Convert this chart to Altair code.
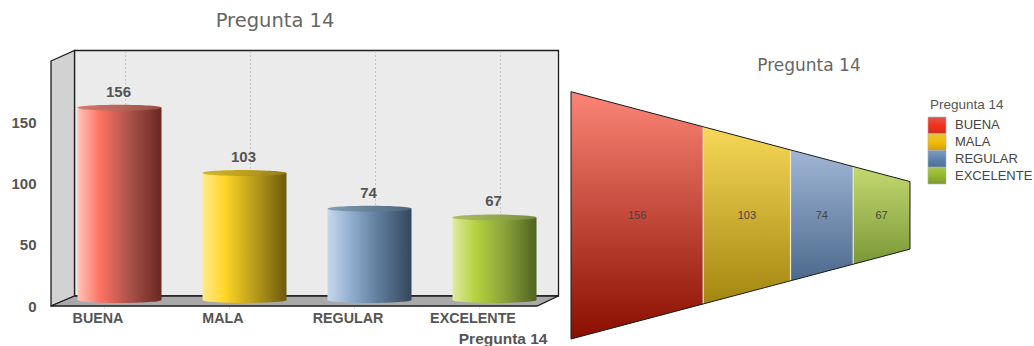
import altair as alt
import pandas as pd

# Survey answers for question 14
categories = ["BUENA", "MALA", "REGULAR", "EXCELENTE"]
counts = [156, 103, 74, 67]
question = "Pregunta 14"
y_ticks = [0, 50, 100, 150]

SANS = "Liberation Sans"
WIDE = "DejaVu Sans"


def gradient(stops, vertical=False):
    return {
        "gradient": "linear",
        "x1": 0, "y1": 0,
        "x2": 0 if vertical else 1,
        "y2": 1 if vertical else 0,
        "stops": [{"offset": o, "color": c} for o, c in stops],
    }


# Per-category palettes
cylinder_body = {
    "BUENA": [(0, "#ffc4ba"), (0.27, "#fd7262"), (0.62, "#a9524a"), (1, "#682820")],
    "MALA": [(0, "#ffe98c"), (0.27, "#fed625"), (0.62, "#b89b1a"), (1, "#6e5a0a")],
    "REGULAR": [(0, "#c9d8ea"), (0.27, "#92afd1"), (0.62, "#5e7a99"), (1, "#33475c")],
    "EXCELENTE": [(0, "#dfeaa2"), (0.27, "#b6d240"), (0.62, "#8ba23a"), (1, "#4e6320")],
}
cylinder_cap = {
    "BUENA": [(0, "#d07a6e"), (0.5, "#bb6558"), (1, "#964c42")],
    "MALA": [(0, "#d2b52e"), (0.5, "#bca01e"), (1, "#937c16")],
    "REGULAR": [(0, "#869db6"), (0.5, "#67809a"), (1, "#4f657c")],
    "EXCELENTE": [(0, "#abbf62"), (0.5, "#94aa50"), (1, "#768a3c")],
}
funnel_fill = {
    "BUENA": [(0, "#fb8576"), (1, "#8a0e00")],
    "MALA": [(0, "#f7d858"), (1, "#a3860f")],
    "REGULAR": [(0, "#a0b6d6"), (1, "#4c6a8c")],
    "EXCELENTE": [(0, "#c4d96f"), (1, "#7a9838")],
}
legend_fill = {
    "BUENA": [(0, "#dc5a4c"), (0.5, "#f5301c"), (1, "#c8321c")],
    "MALA": [(0, "#e8c440"), (0.5, "#f2bd06"), (1, "#cfa008")],
    "REGULAR": [(0, "#7f9cc0"), (0.5, "#5e82ae"), (1, "#4e6e96")],
    "EXCELENTE": [(0, "#a8c650"), (0.5, "#92b82c"), (1, "#7d9a30")],
}

df = pd.DataFrame({"cat": categories, "n": counts})

# ---- Bar panel scales ----
x_band = alt.Scale(domain=categories, range=[57, 557], paddingInner=0.328, paddingOuter=0.164)
y_bar = alt.Scale(domain=[0, 200], range=[300, 53.5])
y_front = alt.Scale(domain=[0, 200], range=[306, 61])
px_x = alt.Scale(domain=[0, 1034], range=[0, 1034])
px_y = alt.Scale(domain=[0, 346], range=[0, 346])

X = alt.X("cat:N", scale=x_band, axis=None, sort=categories)
Y = alt.Y("n:Q", scale=y_bar, axis=None)

layers = []

# Back wall, side wall and floor of the 3D box
wall_back = pd.DataFrame({"x": [74.5, 558.5], "t": [50.5, 50.5], "b": [296, 296]})
layers.append(
    alt.Chart(wall_back).mark_area(color="#ebebeb", stroke="#1c1c1c", strokeWidth=1.3).encode(
        x=alt.X("x:Q", scale=px_x, axis=None),
        y=alt.Y("t:Q", scale=px_y, axis=None),
        y2="b:Q",
    )
)
wall_side = pd.DataFrame({"x": [51, 74.5], "t": [61, 50.5], "b": [306, 296]})
layers.append(
    alt.Chart(wall_side).mark_area(color="#d2d2d2", stroke="#1c1c1c", strokeWidth=1.3).encode(
        x=alt.X("x:Q", scale=px_x, axis=None),
        y=alt.Y("t:Q", scale=px_y, axis=None),
        y2="b:Q",
    )
)
floor = pd.DataFrame({"y": [296, 306], "l": [74.5, 51], "r": [558.5, 537]})
layers.append(
    alt.Chart(floor).mark_area(orient="horizontal", color="#a9a9a9", stroke="#1c1c1c", strokeWidth=1.3).encode(
        y=alt.Y("y:Q", scale=px_y, axis=None),
        x=alt.X("l:Q", scale=px_x, axis=None),
        x2="r:Q",
    )
)

# Dotted guides on the back wall
layers.append(
    alt.Chart(df).mark_rule(color="#c6c6c6", strokeDash=[2, 2], strokeWidth=1, xOffset=6).encode(
        x=X, y=alt.value(51), y2=alt.value(296)
    )
)

# Cylinders: base ellipse, body, top cap
ELLIPSE = "M-1,0A1,0.07,0,1,1,1,0A1,0.07,0,1,1,-1,0Z"
for cat in categories:
    sub = df[df["cat"] == cat]
    layers.append(
        alt.Chart(sub).mark_point(
            shape=ELLIPSE, size=7056, filled=True, opacity=1, strokeWidth=0,
            fill=gradient(cylinder_body[cat]),
        ).encode(x=X, y=alt.Y("z:Q", scale=y_bar, axis=None)).transform_calculate(z="0")
    )
    layers.append(
        alt.Chart(sub).mark_bar(fill=gradient(cylinder_body[cat])).encode(x=X, y=Y)
    )
    layers.append(
        alt.Chart(sub).mark_point(
            shape=ELLIPSE, size=7056, filled=True, opacity=1, strokeWidth=0,
            fill=gradient(cylinder_cap[cat]),
        ).encode(x=X, y=Y)
    )

# Value labels above the cylinders
layers.append(
    alt.Chart(df).mark_text(
        font=SANS, fontSize=15, fontWeight="bold", color="#555555", dy=-16, dx=-1
    ).encode(x=X, y=Y, text="n:Q")
)

# Axes sit on the front plane of the box
ticks_df = pd.DataFrame({"v": y_ticks})
layers.append(
    alt.Chart(ticks_df).mark_rule(opacity=0).encode(
        y=alt.Y(
            "v:Q", scale=y_front,
            axis=alt.Axis(
                orient="left", offset=-36, values=y_ticks, title=None, domain=False,
                ticks=False, grid=False, labelPadding=0, labelFont=SANS, labelFontSize=15,
                labelFontWeight="bold", labelColor="#555555",
            ),
        )
    )
)
layers.append(
    alt.Chart(df).mark_rule(opacity=0).encode(
        x=alt.X(
            "cat:N", scale=x_band, sort=categories,
            axis=alt.Axis(
                orient="bottom", offset=-40, title=question, domain=False, grid=False,
                labelAngle=0, labelOffset=-6, tickOffset=-16, tickColor="#e4e4e4",
                tickSize=3, labelPadding=2, labelFont=SANS, labelFontSize=14.3,
                labelFontWeight="bold", labelColor="#555555", titleFont=SANS,
                titleFontSize=15.5, titleFontWeight="bold", titleColor="#555555",
                titleX=547, titleY=32, titleAlign="right", titleBaseline="middle",
            ),
        )
    )
)

# ---- Funnel: widths follow the running total, height tapers linearly ----
total = sum(counts)
x_fun = alt.Scale(domain=[0, total], range=[571, 910])
y_fun = alt.Scale(domain=[-1, 1], range=[339, 91.7])
TAPER = 33.8 / 123.7


def half_height(c):
    return 1 - (1 - TAPER) * c / total


edges = []
running = 0
for cat, n in zip(categories, counts):
    start, end = running, running + n
    running = end
    seg = pd.DataFrame({
        "c": [start, end],
        "top": [half_height(start), half_height(end)],
        "bot": [-half_height(start), -half_height(end)],
    })
    layers.append(
        alt.Chart(seg).mark_area(fill=gradient(funnel_fill[cat], vertical=True)).encode(
            x=alt.X("c:Q", scale=x_fun, axis=None),
            y=alt.Y("top:Q", scale=y_fun, axis=None),
            y2="bot:Q",
        )
    )
    edges.append({"c": end, "top": half_height(end), "bot": -half_height(end), "mid": (start + end) / 2, "n": n})

# Pale separators between the segments
layers.append(
    alt.Chart(pd.DataFrame(edges[:-1])).mark_rule(color="#efe9c8", strokeWidth=1.2).encode(
        x=alt.X("c:Q", scale=x_fun, axis=None),
        y=alt.Y("top:Q", scale=y_fun, axis=None),
        y2="bot:Q",
    )
)
# Dark outline of the funnel
outline = pd.DataFrame({
    "c": [0, total],
    "top": [half_height(0), half_height(total)],
    "bot": [-half_height(0), -half_height(total)],
})
for field in ["top", "bot"]:
    layers.append(
        alt.Chart(outline).mark_line(color="#1a1a1a", strokeWidth=1).encode(
            x=alt.X("c:Q", scale=x_fun, axis=None),
            y=alt.Y(f"{field}:Q", scale=y_fun, axis=None),
        )
    )
layers.append(
    alt.Chart(outline).mark_rule(color="#1a1a1a", strokeWidth=1).encode(
        x=alt.X("c:Q", scale=x_fun, axis=None),
        y=alt.Y("top:Q", scale=y_fun, axis=None),
        y2="bot:Q",
    )
)
# Counts inside the segments
layers.append(
    alt.Chart(pd.DataFrame(edges)).mark_text(
        font=SANS, fontSize=11, color="#444444"
    ).encode(
        x=alt.X("mid:Q", scale=x_fun, axis=None),
        y=alt.value(215.5),
        text="n:Q",
    )
)

# ---- Legend block ----
y_leg = alt.Scale(domain=categories, range=[117, 184], paddingInner=0, paddingOuter=0)
for cat in categories:
    layers.append(
        alt.Chart(df[df["cat"] == cat]).mark_bar(
            fill=gradient(legend_fill[cat], vertical=True), stroke="#b0b0b0", strokeWidth=0.6
        ).encode(
            y=alt.Y("cat:N", scale=y_leg, axis=None, sort=categories),
            x=alt.value(928),
            x2=alt.value(946),
        )
    )
layers.append(
    alt.Chart(df).mark_text(
        font=SANS, fontSize=13, color="#444444", align="left"
    ).encode(
        y=alt.Y("cat:N", scale=y_leg, axis=None, sort=categories),
        x=alt.value(955),
        text="cat:N",
    )
)

# ---- Titles ----
title_df = pd.DataFrame({"t": [question]})
for px, py, size, font, color, align in [
    (275, 21, 19.5, WIDE, "#666666", "center"),
    (809, 66, 17, WIDE, "#666666", "center"),
    (930, 105, 13.5, SANS, "#555555", "left"),
]:
    layers.append(
        alt.Chart(title_df).mark_text(font=font, fontSize=size, color=color, align=align).encode(
            x=alt.value(px), y=alt.value(py), text="t:N"
        )
    )

chart = (
    alt.layer(*layers)
    .resolve_scale(x="independent", y="independent")
    .properties(width=1034, height=346, padding=0, autosize=alt.AutoSizeParams(type="none"), background="white")
    .configure_view(stroke=None)
)

chart.save("out.html", embed_options={"renderer": "svg", "actions": False})
